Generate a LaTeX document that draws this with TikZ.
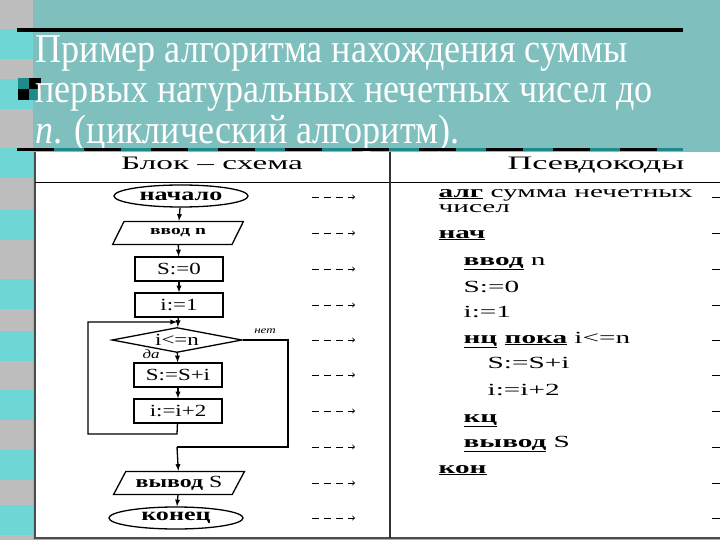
\documentclass[tikz,border=0pt]{standalone}
\usepackage{fontspec}
\setmainfont{Liberation Serif}
\usepackage{graphicx}
\usetikzlibrary{shapes.geometric}
\definecolor{slidebg}{HTML}{7FBFBD}
\definecolor{stripgray}{HTML}{BDBDBD}
\definecolor{stripcyan}{HTML}{6FD6D6}
\definecolor{darkteal}{HTML}{1E8A8A}
\newcommand\sx[2]{\scalebox{#1}[1]{#2}}
\newcommand\kw[1]{\underline{\textbf{#1}}}

\begin{document}
\begin{tikzpicture}[x=1pt, y=-1pt, line width=1.3pt,
                    fc/.style={draw, inner sep=0pt, font=\fontsize{17}{17}\selectfont},
                    term/.style={fc, ellipse, minimum width=134, minimum height=22},
                    proc/.style={fc, rectangle, minimum width=88, minimum height=24},
                    io/.style={fc, trapezium, trapezium left angle=55, trapezium right angle=125,
                               trapezium stretches=true, minimum width=131, minimum height=23},
                    cond/.style={fc, diamond, aspect=5, minimum width=130, minimum height=25},
                    code/.style={anchor=base west, inner sep=0pt, font=\fontsize{17}{17}\selectfont},
                    ghost/.style={line width=0.9pt, dash pattern=on 7pt off 5pt, ->}]

  \useasboundingbox (0,0) rectangle (720,540);
  \fill[slidebg] (0,0) rectangle (720,540);
  \fill[stripgray] (0,0) rectangle (33,540);
  \foreach \y in {29,79,148,210,279,331,390,450,505}
    \fill[stripcyan] (0,\y) rectangle (33,\y+30);

  \fill[black] (17,28) rectangle (683,32);
  \fill[darkteal] (18,78) rectangle (29,89);
  \fill[black] (29,78) rectangle (41,89);
  \fill[black] (18,89) rectangle (29,100);
  \fill[darkteal] (29,89) rectangle (41,100);

  \node[anchor=base west, inner sep=0pt, text=white, font=\fontsize{41}{41}\selectfont] (t1) at (35,63)
    {\sx{0.88}{Пример алгоритма нахождения суммы}};
  \node[anchor=base west, inner sep=0pt, text=white, font=\fontsize{41}{41}\selectfont] (t2) at (35,103)
    {\sx{0.88}{первых натуральных нечетных чисел до}};
  \node[anchor=base west, inner sep=0pt, text=white, font=\fontsize{41}{41}\selectfont] (t3) at (35,144)
    {\sx{0.88}{\textit{n}. (циклический алгоритм).}};

  \fill[white] (34,152) rectangle (720,538);
  \draw[darkteal, line width=3pt] (17,150) -- (683,150);
  \draw[black, line width=3pt, dash pattern=on 37pt off 30pt] (17,150) -- (683,150);
  \draw[black!70, line width=1.5pt] (35,152) -- (35,538) -- (720,538);
  \draw[black, line width=0.8pt] (35,182) -- (720,182);
  \draw[black!80, line width=1.2pt] (390,152) -- (390,538);

  \node[anchor=base, inner sep=0pt, font=\fontsize{19}{19}\selectfont] (h1) at (212,170) {\sx{1.75}{Блок – схема}};
  \node[anchor=base, inner sep=0pt, font=\fontsize{19}{19}\selectfont] (h2) at (596,170) {\sx{1.8}{Псевдокоды}};

  \node[term] (start) at (181,196) {\fontsize{18}{18}\selectfont\sx{1.45}{\textbf{начало}}};
  \node[io]   (inp)   at (178,233) {\fontsize{13}{13}\selectfont\sx{1.5}{\textbf{ввод n}}};
  \node[proc] (s0)    at (179,269) {\sx{1.35}{S:=0}};
  \node[proc] (i1)    at (179,305) {\sx{1.35}{i:=1}};
  \node[cond] (cnd)   at (177,340) {\sx{1.35}{i<=n}};
  \node[proc] (sum)   at (178,375) {\sx{1.35}{S:=S+i}};
  \node[proc] (inc)   at (178,411) {\sx{1.35}{i:=i+2}};
  \node[io]   (out)   at (179,483) {\sx{1.4}{\textbf{вывод} S}};
  \node[term] (fin)   at (176,518) {\fontsize{18}{18}\selectfont\sx{1.45}{\textbf{конец}}};

  \coordinate (jn) at (177,322);
  \coordinate (lb) at (177,434);
  \coordinate (ll) at (88,434);
  \coordinate (lt) at (88,322);
  \coordinate (rr) at (288,340);
  \coordinate (rb) at (288,447);
  \coordinate (xb) at (177,447);

  \path[-latex]
    (start) edge (inp)
    (inp) edge (s0)
    (s0) edge (i1)
    (i1) edge (cnd)
    (cnd) edge (sum)
    (sum) edge (inc)
    (xb) edge (out)
    (out) edge (fin);
  \draw[-latex] (inc) -- (lb) -- (ll) -- (lt) -- (jn);
  \draw (cnd.east) -- (rr) -- (rb) -- (xb);

  \node[inner sep=0pt, font=\fontsize{10}{10}\selectfont\itshape] (no) at (265,331) {\sx{1.3}{нет}};
  \node[inner sep=0pt, font=\fontsize{13}{13}\selectfont\itshape] (yes) at (151,354) {\sx{1.3}{да}};

  \foreach \y in {197,233,269,305,340,375,411,447,483,518}{
    \draw[ghost] (312,\y) -- (355,\y);
    \draw[line width=0.9pt] (712,\y) -- (720,\y);
  }

  \node[code] (c1)  at (438,197) {\sx{1.72}{\kw{алг} сумма нечетных}};
  \node[code] (c2)  at (438,213) {\sx{1.72}{чисел}};
  \node[code] (c3)  at (438,238) {\sx{1.72}{\kw{нач}}};
  \node[code] (c4)  at (463,265) {\sx{1.72}{\kw{ввод} n}};
  \node[code] (c5)  at (463,292) {\sx{1.72}{S:=0}};
  \node[code] (c6)  at (463,317) {\sx{1.72}{i:=1}};
  \node[code] (c7)  at (463,343) {\sx{1.72}{\kw{нц} \kw{пока} i<=n}};
  \node[code] (c8)  at (487,368) {\sx{1.72}{S:=S+i}};
  \node[code] (c9)  at (487,395) {\sx{1.72}{i:=i+2}};
  \node[code] (c10) at (463,422) {\sx{1.72}{\kw{кц}}};
  \node[code] (c11) at (463,447) {\sx{1.72}{\kw{вывод} S}};
  \node[code] (c12) at (438,473) {\sx{1.72}{\kw{кон}}};
\end{tikzpicture}
\end{document}
